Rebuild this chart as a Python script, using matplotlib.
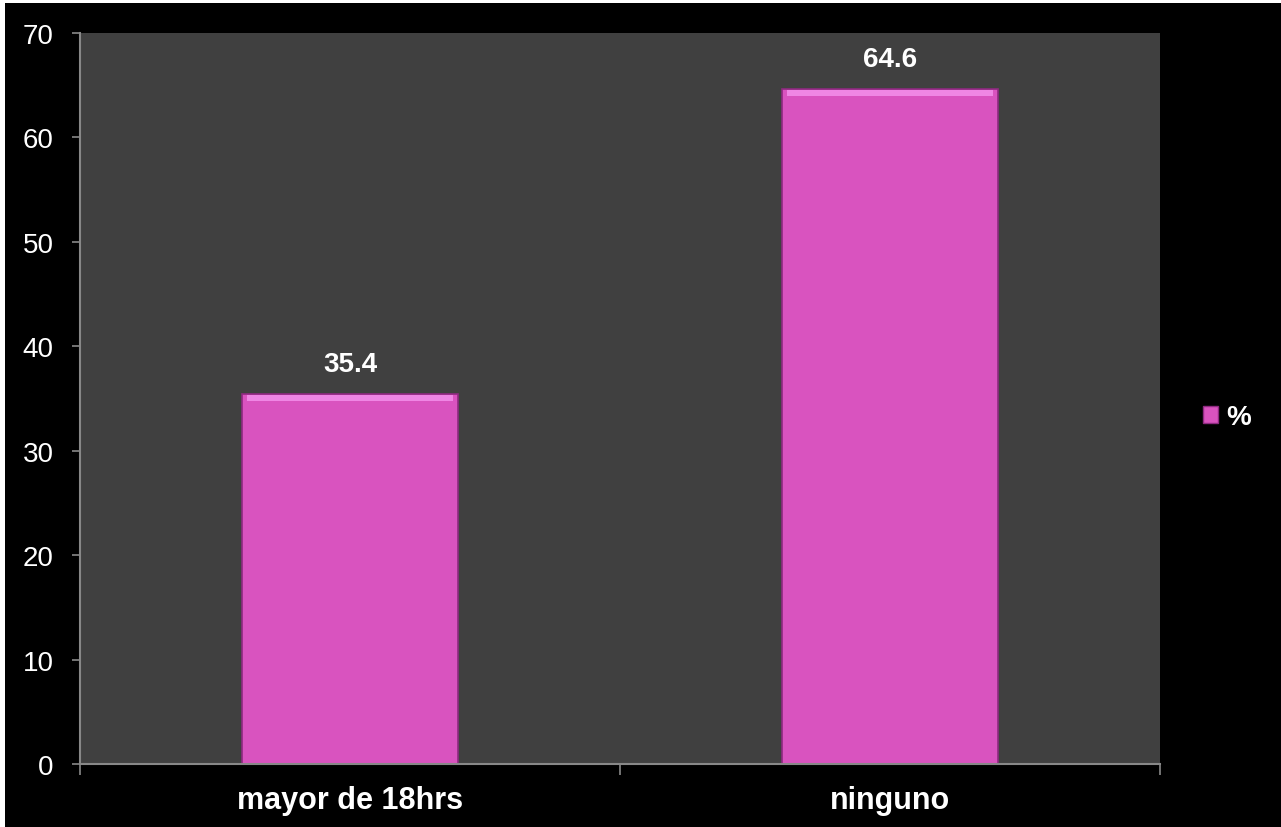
import numpy as np
import matplotlib.pyplot as plt
from matplotlib.patches import Rectangle, Patch

categories = ['mayor de 18hrs', 'ninguno']
values = [35.4, 64.6]
series_name = '%'

plt.rcParams['font.family'] = ['Liberation Sans', 'DejaVu Sans']

fig = plt.figure(figsize=(12.81, 8.28), dpi=100, facecolor='white')
# black slide background with thin white edge at top/left
fig.patches.append(Rectangle((5/1281, -0.01), 1.01, 1.01 - 4/828, transform=fig.transFigure,
                             facecolor='black', edgecolor='none', zorder=-10))
ax = fig.add_axes([80/1281, 1 - 765/828, 1080/1281, 731/828])
ax.set_facecolor('#404040')

x = np.arange(len(categories))
bar_c = '#d953bf'
ax.bar(x, values, width=0.4, color=bar_c, edgecolor='#8e2a80', linewidth=1.2, zorder=2)
# bevel highlight along the top edge
ax.bar(x, [0.55]*len(values), bottom=np.array(values) - 0.6, width=0.38,
       color='#ef86e4', edgecolor='none', zorder=3)

for xi, v in zip(x, values):
    ax.annotate(f'{v}', (xi, v), xytext=(0, 22), textcoords='offset points',
                ha='center', va='center', color='white', fontsize=20, fontweight='bold')

ax.set_xlim(-0.5, len(categories) - 0.5)
ax.set_ylim(0, 70)
ax.set_yticks(np.arange(0, 71, 10))
ax.set_xticks(np.arange(-0.5, len(categories), 1), minor=False)
ax.set_xticklabels([''] * (len(categories) + 1))
ax.set_xticks(x, minor=True)
ax.set_xticklabels(categories, minor=True)
ax.tick_params(axis='x', which='minor', length=0, pad=15, labelsize=22,
               labelcolor='white')
ax.tick_params(axis='x', which='major', length=8, width=1.2, color='#888888')
ax.tick_params(axis='y', length=6, width=1.2, color='#888888', pad=13,
               labelsize=20, labelcolor='white')
for lab in ax.get_xticklabels(minor=True):
    lab.set_fontweight('bold')

for s in ['top', 'right']:
    ax.spines[s].set_visible(False)
for s in ['left', 'bottom']:
    ax.spines[s].set_color('#888888')
    ax.spines[s].set_linewidth(1.5)

leg = fig.legend(handles=[Patch(facecolor=bar_c, edgecolor='#8e2a80', label=series_name)],
                 loc='center left', bbox_to_anchor=(1178/1281, 1 - 418/828),
                 frameon=False, handlelength=0.55, handleheight=0.55, handletextpad=0.3,
                 prop={'size': 20, 'weight': 'bold'}, labelcolor='white')

fig.savefig('out.png', dpi=100, facecolor=fig.get_facecolor())
